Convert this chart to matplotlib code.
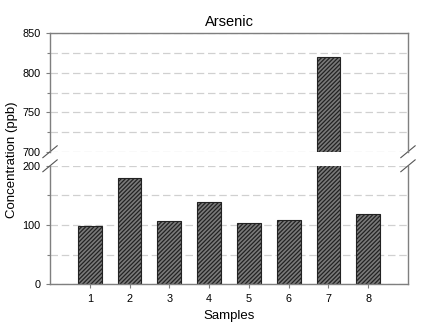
import numpy as np
import matplotlib
matplotlib.use("Agg")
import matplotlib.pyplot as plt

plt.rcParams["font.family"] = ["Liberation Sans", "DejaVu Sans"]
plt.rcParams["hatch.linewidth"] = 0.9
plt.rcParams["hatch.color"] = "#2a2a2a"

samples = [1, 2, 3, 4, 5, 6, 7, 8]
arsenic = [98, 179, 107, 139, 103, 108, 820, 118]

spine_col = "#7f7f7f"
grid_col = "#d0d0d0"

fig = plt.figure(figsize=(4.29, 3.27), dpi=100)
ax_top = fig.add_axes([0.1166, 0.536, 0.8344, 0.362])
ax_bot = fig.add_axes([0.1166, 0.1306, 0.8344, 0.3624])

for ax in (ax_top, ax_bot):
    ax.bar(samples, arsenic, width=0.6, color="#7a7a7a", edgecolor="#222222",
           linewidth=0.8, hatch="////////", zorder=2)
    ax.set_xlim(0, 9)
    ax.set_axisbelow(True)
    for s in ax.spines.values():
        s.set_color(spine_col)
        s.set_linewidth(1.0)
    ax.tick_params(axis="both", which="both", direction="out", color=spine_col,
                   labelsize=7.8, width=0.8)
    ax.tick_params(axis="both", which="major", length=3, pad=4)
    ax.tick_params(axis="y", which="minor", length=2)
    ax.grid(True, axis="y", which="both", linestyle=(0, (6, 3)),
            color=grid_col, linewidth=0.9)

ax_top.set_ylim(700, 850)
ax_top.set_yticks([700, 750, 800, 850])
ax_top.set_yticks([725, 775, 825], minor=True)
ax_top.spines["bottom"].set_visible(False)
ax_top.tick_params(axis="x", which="both", bottom=False, labelbottom=False)

ax_bot.set_ylim(0, 200)
ax_bot.set_yticks([0, 100, 200])
ax_bot.set_yticks([50, 150], minor=True)
ax_bot.spines["top"].set_visible(False)
ax_bot.set_xticks(samples)

# break marks
d = 0.02
kw = dict(color="#555555", linewidth=0.8, clip_on=False)
for x0 in (0, 1):
    ax_top.plot([x0 - d, x0 + d], [-0.05, 0.05],
                transform=ax_top.transAxes, **kw)
    ax_bot.plot([x0 - d, x0 + d], [0.95, 1.05],
                transform=ax_bot.transAxes, **kw)

ax_top.set_title("Arsenic", fontsize=10.5, pad=5)
ax_bot.set_xlabel("Samples", fontsize=9.5, labelpad=4)
fig.text(0.028, 0.51, "Concentration (ppb)", rotation=90, fontsize=9.5,
         ha="center", va="center")

fig.savefig("out.png", dpi=100)
